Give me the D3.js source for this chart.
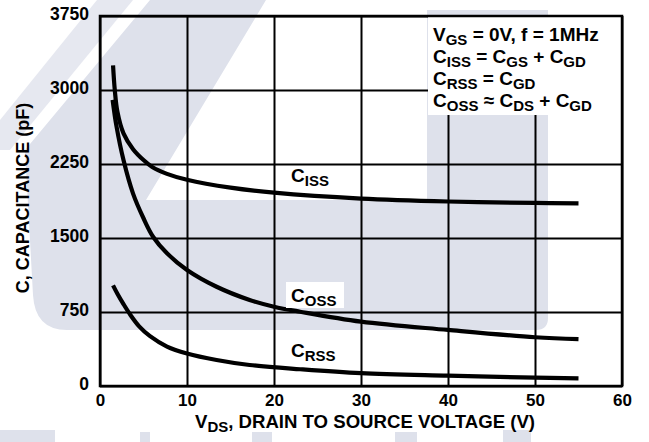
<!DOCTYPE html>
<html><head><meta charset="utf-8">
<script src="https://cdn.jsdelivr.net/npm/d3@7"></script>
<style>
html,body{margin:0;padding:0;background:#fff;}
svg text{font-family:"Liberation Sans",Arial,Helvetica,sans-serif;font-weight:bold;fill:#000;}
</style></head>
<body><svg id="c" width="649" height="442"></svg>
<script>
// ---- data ----
const xTicks = [0, 10, 20, 30, 40, 50, 60];
const yTicks = [0, 750, 1500, 2250, 3000, 3750];
const cissV = [1.5, 1.7, 2.0, 2.7, 3.8, 5.0, 6.0, 7.7, 10, 15, 20, 30, 40, 50, 55];
const cissC = [3250, 3000, 2780, 2560, 2400, 2290, 2220, 2150, 2090, 2010, 1960, 1900, 1870, 1855, 1850];
const cossV = [1.45, 1.9, 2.7, 3.8, 5.0, 6.1, 7.7, 10, 13.4, 17.2, 20, 23, 30, 40, 50, 55];
const cossC = [2900, 2630, 2290, 1950, 1700, 1513, 1345, 1176, 1006, 872, 804, 753, 652, 568, 494, 475];
const crssV = [1.5, 2.0, 2.7, 3.5, 4.5, 5.75, 7.7, 10, 13.4, 17.2, 23, 30, 40, 50, 55];
const crssC = [1020, 935, 830, 720, 605, 505, 400, 330, 264, 213, 170, 130, 105, 85, 78];

const svg = d3.select("#c");
const L = 100, R = 622, T = 16, B = 386;
const x = d3.scaleLinear().domain([0, 60]).range([L, R]);
const y = d3.scaleLinear().domain([0, 3750]).range([B, T]);
const GREY = "#dee1eb";

// ---- watermark ----
const wm = svg.append("g").attr("fill", GREY);
wm.append("path").attr("d", "M150,0 L266,0 L146,200 L548,200 L548,318 Q548,330 536,330 L67,330 Q35,330 33,295 L25,150 Z");
wm.append("path").attr("d", "M97,0 L133,0 L10,150 L0,150 L0,120 Z").attr("fill", "#e6e8f0");
wm.append("rect").attr("x", 427).attr("y", 10).attr("width", 121).attr("height", 200);
[[0,430,55,12],[140,432,10,10],[252,432,20,10],[395,432,22,10],[503,430,28,12]].forEach(r=>
  wm.append("rect").attr("x", r[0]).attr("y", r[1]).attr("width", r[2]).attr("height", r[3]));

// ---- grid ----
const gx = svg.append("g").attr("transform", `translate(0,${B})`)
  .call(d3.axisBottom(x).tickValues(xTicks).tickFormat(d3.format("d")).tickSize(-(B - T)).tickPadding(8));
gx.select(".domain").remove();
gx.selectAll("line").attr("stroke", "#000").attr("stroke-width", 2);
gx.selectAll("text").attr("font-size", 17).attr("fill", "#000");

const gy = svg.append("g").attr("transform", `translate(${L},0)`)
  .call(d3.axisLeft(y).tickValues(yTicks).tickFormat(d3.format("d")).tickSize(-(R - L)).tickPadding(11));
gy.select(".domain").remove();
gy.selectAll("line").attr("stroke", "#000").attr("stroke-width", 2);
gy.selectAll("text").attr("font-size", 17.5).attr("fill", "#000").attr("y", -2);

// ---- curves ----
const line = d3.line().x(d => x(d[0])).y(d => y(d[1])).curve(d3.curveCatmullRom.alpha(0.5));
[[cissV, cissC], [cossV, cossC], [crssV, crssC]].forEach(([v, c]) => {
  svg.append("path").datum(v.map((d, i) => [d, c[i]]))
    .attr("d", line).attr("fill", "none").attr("stroke", "#000")
    .attr("stroke-width", 4.2).attr("stroke-linecap", "butt");
});

// ---- legend box ----
svg.append("rect").attr("x", 428).attr("y", T).attr("width", R - 428).attr("height", 115 - T).attr("fill", "#fff");

// border
svg.append("rect").attr("x", L).attr("y", T).attr("width", R - L).attr("height", B - T)
  .attr("fill", "none").attr("stroke", "#000").attr("stroke-width", 2.5);

function rich(g, xx, yy, parts, fs, sfs, anchor) {
  const t = g.append("text").attr("x", xx).attr("y", yy).attr("font-size", fs)
    .attr("text-anchor", anchor || "start");
  let prev = false;
  parts.forEach(p => {
    const sub = !!p[1];
    const ts = t.append("tspan").text(p[0]).attr("dy", sub ? (prev ? 0 : 4) : (prev ? -4 : 0));
    if (sub) ts.attr("font-size", sfs);
    prev = sub;
  });
  return t;
}

const legendLines = [
  [["V"], ["GS", 1], [" = 0V, f = 1MHz"]],
  [["C"], ["ISS", 1], [" = C"], ["GS", 1], [" + C"], ["GD", 1]],
  [["C"], ["RSS", 1], [" = C"], ["GD", 1]],
  [["C"], ["OSS", 1], [" \u2248 C"], ["DS", 1], [" + C"], ["GD", 1]]
];
legendLines.forEach((ln, i) => rich(svg, 433, 40.5 + i * 22.3, ln, 19, 15));

// curve labels
rich(svg, 291, 182, [["C"], ["ISS", 1]], 19, 15);
svg.append("rect").attr("x", 286).attr("y", 282).attr("width", 58).attr("height", 26).attr("fill", "#fff");
rich(svg, 291, 302, [["C"], ["OSS", 1]], 19, 15);
rich(svg, 291, 357, [["C"], ["RSS", 1]], 19, 15);

// axis titles
rich(svg, 365, 428, [["V"], ["DS", 1], [", DRAIN TO SOURCE VOLTAGE (V)"]], 18.6, 15, "middle");
svg.append("text").attr("transform", "translate(29,198) rotate(-90)")
  .attr("text-anchor", "middle").attr("font-size", 18).text("C, CAPACITANCE (pF)");
</script></body></html>
